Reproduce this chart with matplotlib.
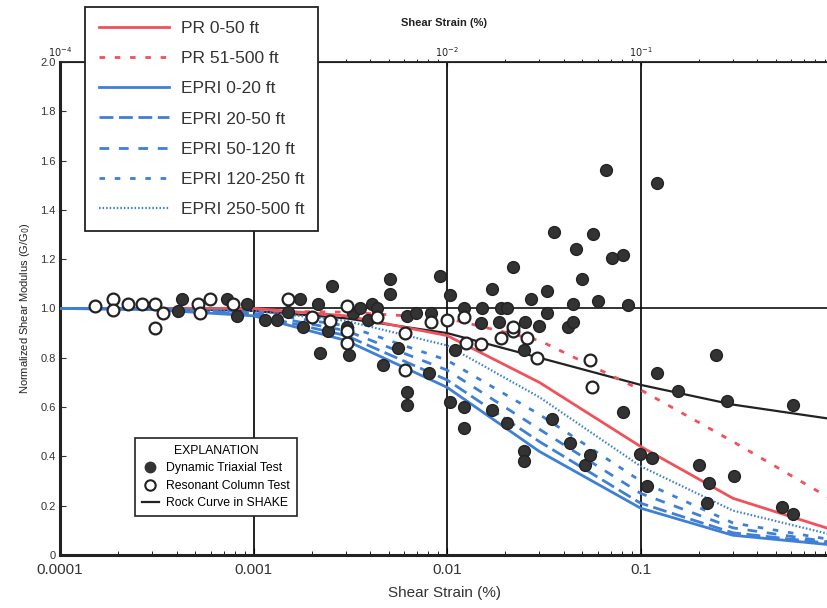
import matplotlib
matplotlib.use("Agg")
import matplotlib.pyplot as plt
from matplotlib.lines import Line2D
from matplotlib.ticker import FixedLocator, NullFormatter

plt.rcParams["font.family"] = ["Liberation Sans", "DejaVu Sans"]

# ---- data (shear strain in %, G/G0) ----
curve_strain = [1e-4, 3e-4, 1e-3, 3e-3, 1e-2, 3e-2, 1e-1, 3e-1, 1.0]
pr_0_50 = [1.0, 1.0, 1.0, 0.97, 0.89, 0.70, 0.44, 0.23, 0.10]
pr_51_500 = [1.0, 1.0, 0.99, 0.985, 0.96, 0.87, 0.67, 0.46, 0.22]
epri_0_20 = [1.0, 0.995, 0.97, 0.87, 0.68, 0.42, 0.19, 0.08, 0.04]
epri_20_50 = [1.0, 0.997, 0.975, 0.89, 0.71, 0.46, 0.21, 0.09, 0.045]
epri_50_120 = [1.0, 0.998, 0.98, 0.91, 0.75, 0.51, 0.25, 0.11, 0.05]
epri_120_250 = [1.0, 0.999, 0.985, 0.93, 0.79, 0.57, 0.30, 0.13, 0.06]
epri_250_500 = [1.0, 1.0, 0.99, 0.95, 0.85, 0.64, 0.36, 0.18, 0.08]
rock_shake = [1.0, 1.0, 0.99, 0.96, 0.90, 0.80, 0.69, 0.61, 0.55]

triaxial_strain = [
    4.27e-4, 4.07e-4, 7.3e-4, 8.2e-4, 9.25e-4, 1.15e-3, 1.32e-3, 1.74e-3, 1.51e-3,
    2.15e-3, 1.8e-3, 2.2e-3, 3.1e-3, 2.43e-3, 3.04e-3, 2.55e-3, 3.27e-3, 3.55e-3,
    3.9e-3, 4.1e-3, 4.35e-3, 5.07e-3, 5.07e-3, 4.67e-3, 5.6e-3, 6.2e-3, 6.2e-3,
    6.2e-3, 6.9e-3, 8.3e-3, 8.1e-3, 9.2e-3, 1.03e-2, 1.1e-2, 1.03e-2, 1.22e-2,
    1.22e-2, 1.22e-2, 1.5e-2, 1.51e-2, 1.7e-2, 1.7e-2, 1.9e-2, 1.86e-2, 2.04e-2,
    2.04e-2, 2.19e-2, 2.5e-2, 2.5e-2, 2.5e-2, 2.54e-2, 2.72e-2, 3.0e-2, 3.27e-2,
    3.27e-2, 3.48e-2, 3.57e-2, 4.2e-2, 4.32e-2, 4.47e-2, 4.5e-2, 4.65e-2, 5.0e-2,
    5.16e-2, 5.49e-2, 5.69e-2, 6.06e-2, 6.64e-2, 7.1e-2, 8.1e-2, 8.12e-2, 8.58e-2,
    0.099, 0.108, 0.1145, 0.1216, 0.1216, 0.156, 0.201, 0.22, 0.227, 0.245, 0.279,
    0.305, 0.536, 0.61, 0.61,
]
triaxial_ratio = [
    1.04, 0.99, 1.04, 0.97, 1.02, 0.955, 0.955, 1.04, 0.985,
    1.02, 0.925, 0.82, 0.81, 0.91, 0.925, 1.09, 0.98, 1.0,
    0.955, 1.02, 1.0, 1.12, 1.06, 0.77, 0.84, 0.66, 0.61,
    0.97, 0.98, 0.98, 0.74, 1.13, 1.055, 0.83, 0.62, 1.0,
    0.60, 0.515, 0.94, 1.0, 1.08, 0.59, 1.0, 0.945, 1.0,
    0.535, 1.17, 0.83, 0.42, 0.38, 0.945, 1.04, 0.93, 1.07,
    0.98, 0.55, 1.31, 0.925, 0.455, 0.945, 1.02, 1.24, 1.12,
    0.365, 0.405, 1.30, 1.03, 1.56, 1.205, 1.215, 0.58, 1.015,
    0.41, 0.28, 0.395, 0.74, 1.51, 0.665, 0.365, 0.21, 0.29, 0.81, 0.625,
    0.32, 0.195, 0.165, 0.61,
]

resonant_strain = [
    1.52e-4, 1.88e-4, 1.88e-4, 2.25e-4, 2.65e-4, 3.1e-4, 3.4e-4, 3.1e-4, 5.16e-4,
    5.3e-4, 5.96e-4, 7.8e-4, 1.51e-3, 3.04e-3, 3.04e-3, 3.04e-3, 2.0e-3, 2.48e-3,
    4.35e-3, 6.07e-3, 6.07e-3, 8.3e-3, 1.0e-2, 1.22e-2, 1.26e-2, 1.5e-2, 1.9e-2,
    2.2e-2, 2.2e-2, 2.6e-2, 2.9e-2, 5.5e-2, 5.6e-2,
]
resonant_ratio = [
    1.01, 1.04, 0.995, 1.02, 1.02, 1.02, 0.98, 0.92, 1.02,
    0.98, 1.04, 1.02, 1.04, 1.01, 0.86, 0.91, 0.965, 0.95,
    0.965, 0.90, 0.75, 0.945, 0.955, 0.965, 0.86, 0.855, 0.88,
    0.91, 0.925, 0.88, 0.80, 0.79, 0.68,
]

RED = "#f0525c"
BLUE = "#3f80d6"

fig = plt.figure(figsize=(8.28, 6.08), dpi=100)
ax = fig.add_axes([0.0725, 0.0872, 0.9275, 0.811])
ax.set_xscale("log")
ax.set_xlim(1e-4, 0.93)
ax.set_ylim(0, 2.0)

# grid lines at decades and G/G0 = 1
for xv in [1e-3, 1e-2, 1e-1]:
    ax.axvline(xv, color="#111111", lw=1.3, zorder=1)
ax.axhline(1.0, color="#111111", lw=1.2, zorder=1)

ax.plot(curve_strain, rock_shake, color="#222222", lw=1.6, zorder=3)
ax.plot(curve_strain, pr_0_50, color=RED, lw=2.0, zorder=4)
ax.plot(curve_strain, pr_51_500, color=RED, lw=2.0, ls=(0, (2, 3.5)), zorder=4)
ax.plot(curve_strain, epri_0_20, color=BLUE, lw=2.0, zorder=4)
ax.plot(curve_strain, epri_20_50, color=BLUE, lw=2.0, ls=(0, (5, 2)), zorder=4)
ax.plot(curve_strain, epri_50_120, color=BLUE, lw=2.0, ls=(0, (3.5, 3.5)), zorder=4)
ax.plot(curve_strain, epri_120_250, color=BLUE, lw=2.0, ls=(0, (2, 3.5)), zorder=4)
ax.plot(curve_strain, epri_250_500, color=BLUE, lw=1.6, ls=(0, (0.7, 0.9)), zorder=4)

ax.plot(triaxial_strain, triaxial_ratio, "o", ms=8.5, color="#333333",
        mec="#222222", zorder=5, clip_on=False)
ax.plot(resonant_strain, resonant_ratio, "o", ms=8.5, mfc="white",
        mec="#222222", mew=1.6, zorder=5)

# axes styling
ax.spines["right"].set_visible(False)
ax.spines["left"].set_linewidth(2.2)
ax.spines["bottom"].set_linewidth(2.2)
ax.spines["top"].set_linewidth(1.3)
for s in ax.spines.values():
    s.set_color("#222222")

ax.set_yticks([0, 0.2, 0.4, 0.6, 0.8, 1.0, 1.2, 1.4, 1.6, 1.8, 2.0])
ax.set_yticklabels(["0", "0.2", "0.4", "0.6", "0.8", "1.0", "1.2", "1.4",
                    "1.6", "1.8", "2.0"])
ax.tick_params(axis="y", labelsize=8, length=4, direction="in", pad=3,
               colors="#333333")
ax.set_xticks([1e-4, 1e-3, 1e-2, 1e-1])
ax.set_xticklabels(["0.0001", "0.001", "0.01", "0.1"])
ax.tick_params(axis="x", which="major", labelsize=11, length=5,
               direction="in", pad=6, labelcolor="#333333")
ax.xaxis.set_minor_locator(FixedLocator(
    [m * 10.0 ** e for e in range(-4, 0) for m in range(2, 10)]))
ax.xaxis.set_minor_formatter(NullFormatter())
ax.tick_params(axis="x", which="minor", length=3, direction="in")

ax.set_xlabel("Shear Strain (%)", fontsize=11, color="#333333", labelpad=6)
ax.set_ylabel("Normalized Shear Modulus (G/G$_0$)", fontsize=8,
              color="#222222", labelpad=6)

top = ax.secondary_xaxis("top")
top.set_xticks([1e-4, 1e-2, 1e-1])
top.set_xticklabels(["$10^{-4}$", "$10^{-2}$", "$10^{-1}$"])
top.tick_params(labelsize=7, length=3, direction="in", pad=2,
                labelcolor="#222222")
top.set_xlabel("Shear Strain (%)", fontsize=8, fontweight="bold",
               color="#222222", labelpad=14)

# curve legend
curve_handles = [
    Line2D([], [], color=RED, lw=2.0),
    Line2D([], [], color=RED, lw=2.0, ls=(0, (2, 3.5))),
    Line2D([], [], color=BLUE, lw=2.0),
    Line2D([], [], color=BLUE, lw=2.0, ls=(0, (5, 2))),
    Line2D([], [], color=BLUE, lw=2.0, ls=(0, (3.5, 3.5))),
    Line2D([], [], color=BLUE, lw=2.0, ls=(0, (2, 3.5))),
    Line2D([], [], color=BLUE, lw=1.6, ls=(0, (0.7, 0.9))),
]
curve_labels = ["PR 0-50 ft", "PR 51-500 ft", "EPRI 0-20 ft", "EPRI 20-50 ft",
                "EPRI 50-120 ft", "EPRI 120-250 ft", "EPRI 250-500 ft"]
leg1 = fig.legend(curve_handles, curve_labels, loc="upper left",
                  bbox_to_anchor=(0.103, 0.989), borderaxespad=0,
                  fontsize=12.5, handlelength=4.0, labelspacing=0.87,
                  handletextpad=0.7, borderpad=0.8, fancybox=False,
                  framealpha=1, edgecolor="#222222", labelcolor="#333333")
leg1.get_frame().set_linewidth(1.3)

# explanation legend
expl_handles = [
    Line2D([], [], ls="none", marker="o", ms=7.5, color="#333333"),
    Line2D([], [], ls="none", marker="o", ms=7.5, mfc="white", mec="#222222",
           mew=1.5),
    Line2D([], [], color="#222222", lw=1.6),
]
expl_labels = ["Dynamic Triaxial Test", "Resonant Column Test",
               "Rock Curve in SHAKE"]
leg2 = ax.legend(expl_handles, expl_labels, title="EXPLANATION",
                 loc="upper left", bbox_to_anchor=(0.0977, 0.237),
                 borderaxespad=0, fontsize=8.8, title_fontsize=8.8,
                 handlelength=1.4, handletextpad=0.6, labelspacing=0.45,
                 borderpad=0.55, fancybox=False, framealpha=1,
                 edgecolor="#222222")
leg2.get_frame().set_linewidth(1.2)
leg2.set_zorder(6)

fig.savefig("out.png", dpi=100)
